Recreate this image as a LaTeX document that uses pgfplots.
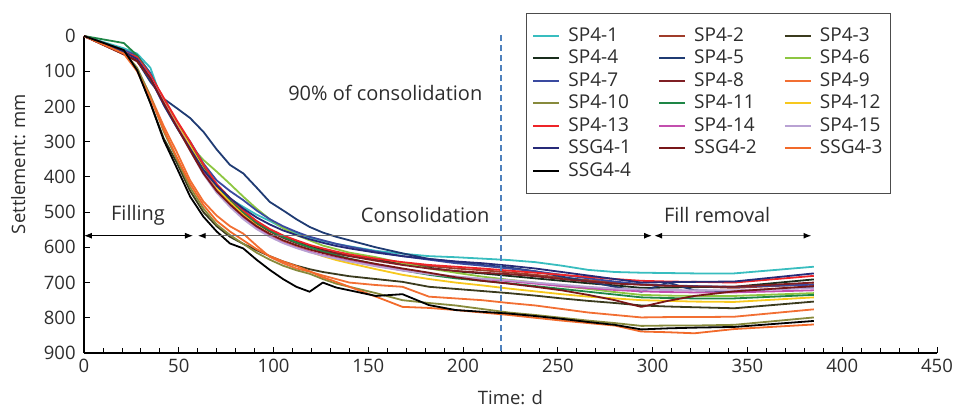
\documentclass[border=0pt]{standalone}
\usepackage{fontspec}
\setmainfont{Open Sans}
\usepackage{pgfplots}
\pgfplotsset{compat=1.18}
\usepackage{pgfplotstable}
\usetikzlibrary{arrows.meta}

% Settlement (mm) against time (days) for each gauge
\pgfplotstableread{
t   sp1 sp2 sp3 sp4 sp5 sp6 sp7 sp8 sp9 sp10 sp11 sp12 sp13 sp14 sp15 g1  g2  g3  g4
0   0   0   0   0   0   0   0   0   0   0    0    0    0    0    0    0   0   0   0
21  35  50  45  45  40  40  40  52  50  45   20   45   45   48   48   45  52  50  40
28  50  68  95  62  70  58  55  72  95  90   55   62   60   65   66   65  70  100 97
35  90  118 190 112 130 110 105 122 170 170  110  115  110  118  120  120 120 175 190
42  195 185 290 180 178 180 185 190 255 270  180  185  175  188  190  195 190 265 295
49  260 250 360 245 205 250 250 255 330 350  245  250  240  255  258  260 258 345 375
56  320 315 440 305 233 310 300 320 410 430  305  312  300  320  325  320 325 420 456
63  385 378 500 370 272 352 362 385 470 490  370  378  365  385  392  380 390 480 513
70  430 428 540 425 322 385 410 435 510 535  425  432  420  440  445  425 440 525 555
77  462 468 570 463 366 420 440 472 540 565  465  472  460  480  485  460 478 555 589
84  485 503 590 498 390 456 466 505 561 590  500  508  495  515  520  490 512 580 603
91  507 530 608 527 430 490 495 532 595 615  530  538  525  545  548  515 540 605 635
98  525 552 625 550 471 520 520 555 627 635  553  562  548  568  570  535 562 625 664
105 545 570 640 568 495 545 540 573 645 652  571  582  566  586  588  552 580 640 690
112 560 585 652 582 520 565 556 588 660 665  586  598  580  600  602  565 594 653 712
119 572 597 662 595 542 580 570 600 669 675  600  612  593  612  614  577 606 668 726
126 582 607 670 605 558 595 580 610 680 690  612  625  603  622  624  587 616 685 700
133 590 615 676 614 570 605 590 618 690 703  622  636  612  630  632  596 625 698 714
140 597 622 682 622 580 615 598 625 700 712  632  645  620  638  640  603 633 712 722
154 610 635 690 635 600 628 612 638 707 730  648  662  632  652  654  615 647 740 738
168 618 645 698 648 617 645 625 650 712 750  665  678  642  665  666  625 660 769 733
182 625 653 712 658 633 660 635 660 740 758  678  690  650  675  676  633 672 772 764
196 628 660 718 668 641 672 645 667 745 765  688  700  655  683  683  640 685 778 778
210 632 665 724 674 650 683 652 672 750 775  695  708  660  690  689  645 695 785 783
224 636 671 730 681 657 692 660 676 758 785  702  717  666  696  693  652 703 792 788
238 642 678 737 688 668 700 668 682 765 792  710  725  672  703  700  660 712 800 795
252 652 686 745 695 683 710 678 690 775 800  718  733  678  710  706  670 722 808 803
266 664 693 752 702 697 718 688 697 785 808  726  740  684  716  712  680 735 815 812
280 670 700 758 708 712 727 697 703 792 815  734  745  690  721  717  690 750 822 820
294 672 706 765 715 726 735 705 706 799 823  742  750  695  725  720  700 769 839 833
308 673 709 768 714 700 737 708 709 798 822  744  752  697  727  721  699 752 841 830
322 674 711 770 713 722 738 710 711 798 822  745  754  698  728  722  698 738 844 828
343 674 715 773 712 725 738 712 712 797 820  745  755  700  728  722  697 725 832 826
385 655 705 754 691 712 730 706 700 776 799  735  742  681  722  716  674 710 819 809
}\settle

\definecolor{cSPa}{RGB}{56,189,191}
\definecolor{cSPb}{RGB}{160,60,42}
\definecolor{cSPc}{RGB}{59,59,30}
\definecolor{cSPd}{RGB}{25,45,28}
\definecolor{cSPe}{RGB}{31,59,115}
\definecolor{cSPf}{RGB}{141,198,65}
\definecolor{cSPg}{RGB}{58,74,160}
\definecolor{cSPh}{RGB}{127,31,36}
\definecolor{cSPi}{RGB}{242,111,51}
\definecolor{cSPj}{RGB}{135,138,60}
\definecolor{cSPk}{RGB}{30,134,70}
\definecolor{cSPl}{RGB}{247,200,30}
\definecolor{cSPm}{RGB}{238,36,40}
\definecolor{cSPn}{RGB}{195,79,174}
\definecolor{cSPo}{RGB}{185,162,211}
\definecolor{cSGa}{RGB}{38,42,120}
\definecolor{cSGb}{RGB}{120,23,25}
\definecolor{cSGc}{RGB}{242,106,42}
\definecolor{cSGd}{RGB}{0,0,0}
\definecolor{txt}{RGB}{45,45,45}
\definecolor{dashblue}{RGB}{79,129,189}
\definecolor{arrowgray}{RGB}{110,110,110}

\begin{document}
\fontsize{18.5}{22}\selectfont
\begin{tikzpicture}
\useasboundingbox (-84pt,-55pt) rectangle (871pt,353pt);
\begin{axis}[
  at={(0pt,0pt)}, anchor=south west,
  scale only axis, width=853pt, height=317pt,
  xmin=0, xmax=450, ymin=0, ymax=900, y dir=reverse,
  axis x line*=bottom, axis y line*=left,
  xtick={0,50,...,450}, minor x tick num=4,
  ytick={0,100,...,900},
  tick align=inside, major tick length=6pt, minor tick length=5pt,
  every tick/.style={black, line width=0.8pt},
  axis line style={black, line width=1.1pt},
  tick label style={font=\fontsize{18.5}{20}\selectfont, text=txt},
  yticklabel style={xshift=-2pt},
  /pgf/number format/assume math mode=true,
  /pgf/number format/1000 sep={},
  xlabel={Time: d}, ylabel={Settlement: mm},
  label style={font=\fontsize{18.5}{20}\selectfont, text=txt},
  xlabel style={at={(axis description cs:0.5,-0.161)}, anchor=base},
  ylabel style={at={(axis description cs:-0.077,0.596)}, anchor=center},
  no markers,
  every axis plot/.append style={line width=1.8pt, line join=round},
  legend columns=3,
  legend cell align=left,
  legend image code/.code={\draw[#1, line width=2.2pt] (0pt,0pt) -- (26pt,0pt);},
  legend style={at={(0.518,1.0726)}, anchor=north west,
    draw=black!70, line width=0.8pt, fill=white,
    font=\fontsize{19}{22}\selectfont, text=txt,
    inner xsep=6pt, inner ysep=12pt, row sep=2pt,
    /tikz/every odd column/.append style={column sep=6pt},
    /tikz/every even column/.append style={column sep=25pt}},
  clip=false,
]
\addplot[cSPa] table[x=t, y=sp1]  {\settle}; \addlegendentry{SP4-1}
\addplot[cSPb] table[x=t, y=sp2]  {\settle}; \addlegendentry{SP4-2}
\addplot[cSPc] table[x=t, y=sp3]  {\settle}; \addlegendentry{SP4-3}
\addplot[cSPd] table[x=t, y=sp4]  {\settle}; \addlegendentry{SP4-4}
\addplot[cSPe] table[x=t, y=sp5]  {\settle}; \addlegendentry{SP4-5}
\addplot[cSPf] table[x=t, y=sp6]  {\settle}; \addlegendentry{SP4-6}
\addplot[cSPg] table[x=t, y=sp7]  {\settle}; \addlegendentry{SP4-7}
\addplot[cSPh] table[x=t, y=sp8]  {\settle}; \addlegendentry{SP4-8}
\addplot[cSPi] table[x=t, y=sp9]  {\settle}; \addlegendentry{SP4-9}
\addplot[cSPj] table[x=t, y=sp10] {\settle}; \addlegendentry{SP4-10}
\addplot[cSPk] table[x=t, y=sp11] {\settle}; \addlegendentry{SP4-11}
\addplot[cSPl] table[x=t, y=sp12] {\settle}; \addlegendentry{SP4-12}
\addplot[cSPm] table[x=t, y=sp13] {\settle}; \addlegendentry{SP4-13}
\addplot[cSPn] table[x=t, y=sp14] {\settle}; \addlegendentry{SP4-14}
\addplot[cSPo] table[x=t, y=sp15] {\settle}; \addlegendentry{SP4-15}
\addplot[cSGa] table[x=t, y=g1]   {\settle}; \addlegendentry{SSG4-1}
\addplot[cSGb] table[x=t, y=g2]   {\settle}; \addlegendentry{SSG4-2}
\addplot[cSGc] table[x=t, y=g3]   {\settle}; \addlegendentry{SSG4-3}
\addplot[cSGd] table[x=t, y=g4]   {\settle}; \addlegendentry{SSG4-4}

% end of 90% consolidation
\draw[dashblue, line width=1.3pt, dash pattern=on 6pt off 4pt]
  (axis cs:220,-3) -- (axis cs:220,900);
\node[anchor=east, text=txt, font=\fontsize{20}{22}\selectfont]
  at (axis cs:213.5,162) {90\% of consolidation};

% construction stages
\draw[black, line width=0.9pt, {Latex[length=8pt,width=6pt]}-{Latex[length=8pt,width=6pt]}]
  (axis cs:0,567) -- (axis cs:57.5,567);
\draw[arrowgray, line width=1.3pt,
  {Latex[length=8pt,width=6pt,color=black]}-{Latex[length=8pt,width=6pt,color=black]}]
  (axis cs:60,567) -- (axis cs:299.7,567);
\draw[arrowgray, line width=1.3pt,
  {Latex[length=8pt,width=6pt,color=black]}-{Latex[length=8pt,width=6pt,color=black]}]
  (axis cs:300.8,567) -- (axis cs:383.8,567);
\begin{scope}[every node/.style={text=txt, font=\fontsize{20}{22}\selectfont}]
\node at (axis cs:28.5,508) {Filling};
\node at (axis cs:180,508) {Consolidation};
\node at (axis cs:334,508) {Fill removal};
\end{scope}
\end{axis}
\end{tikzpicture}
\end{document}
